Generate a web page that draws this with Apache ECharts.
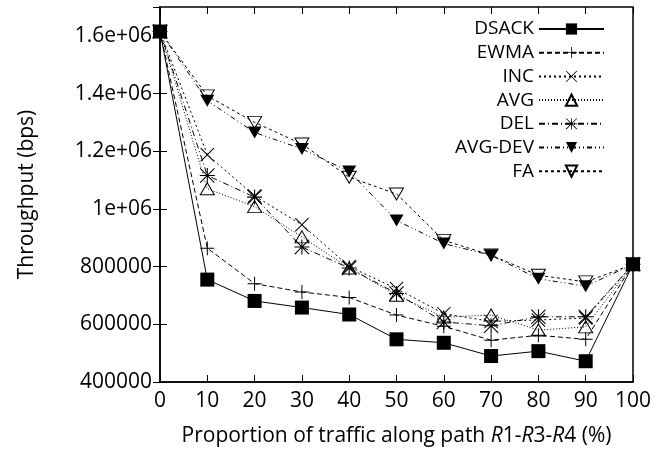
<!DOCTYPE html>
<html>
<head>
<meta charset="utf-8">
<title>Throughput vs traffic proportion</title>
<script src="https://cdn.jsdelivr.net/npm/echarts@6/dist/echarts.min.js"></script>
<style>
  html, body { margin: 0; padding: 0; background: #fff; }
  #chart { width: 670px; height: 452px; }
</style>
</head>
<body>
<div id="chart"></div>
<script>
// Proportion of traffic along path R1-R3-R4 (%)
const proportions = [0, 10, 20, 30, 40, 50, 60, 70, 80, 90, 100];

// Throughput (bps) per scheme
const dsack  = [1615000, 755000, 681000, 658000, 634000, 548000, 536000, 490000, 507000, 472000, 808000];
const ewma   = [1615000, 864000, 741000, 712000, 693000, 632000, 593000, 545000, 562000, 548000, 808000];
const inc    = [1615000, 1188000, 1045000, 945000, 800000, 724000, 637000, 610000, 615000, 622000, 808000];
const avg    = [1615000, 1070000, 1008000, 903000, 795000, 701000, 625000, 632000, 580000, 591000, 808000];
const del    = [1615000, 1116000, 1041000, 868000, 795000, 707000, 608000, 595000, 626000, 626000, 808000];
const avgDev = [1615000, 1375000, 1265000, 1208000, 1130000, 960000, 880000, 839000, 758000, 732000, 808000];
const fa     = [1615000, 1392000, 1300000, 1225000, 1110000, 1052000, 891000, 840000, 770000, 747000, 808000];

const schemeNames = ['DSACK', 'EWMA', 'INC', 'AVG', 'DEL', 'AVG-DEV', 'FA'];

// Axis tick settings
const xTicks = { min: 0, max: 100, step: 10 };
const yTicks = { min: 400000, max: 1700000, step: 200000 };

const FONT = '"Open Sans", "Noto Sans", sans-serif';

// Marker shapes drawn as filled outlines
const PLUS = 'path://M6.5,0H7.5V6.5H14V7.5H7.5V14H6.5V7.5H0V6.5H6.5Z';
const CROSS = 'path://M0,0.7L0.7,0L7,6.3L13.3,0L14,0.7L7.7,7L14,13.3L13.3,14L7,7.7L0.7,14L0,13.3L6.3,7Z';
const STAR = PLUS + CROSS.replace('path://', '');

// Open markers: outline only, no fill
const OPEN = { color: 'rgba(0,0,0,0)', borderColor: '#000', borderWidth: 1 };

function pairs(values) {
  return proportions.map((p, i) => [p, values[i]]);
}

function makeSeries(name, values, opts) {
  return Object.assign({
    name: name,
    type: 'line',
    data: pairs(values),
    symbolKeepAspect: true,
    lineStyle: { color: '#000', width: 1, type: opts.dash || 'solid' },
    itemStyle: { color: '#000', borderWidth: 0 },
    emphasis: { disabled: true }
  }, opts.extra);
}

const series = [
  makeSeries('EWMA', ewma, { dash: [5, 3], extra: { symbol: PLUS, symbolSize: 14, z: 2 } }),
  makeSeries('INC', inc, { dash: [2, 3], extra: { symbol: CROSS, symbolSize: 14, z: 2 } }),
  makeSeries('AVG', avg, { dash: [1, 2], extra: {
    symbol: 'triangle', symbolSize: [14, 12], z: 2, itemStyle: OPEN } }),
  makeSeries('DEL', del, { dash: [6, 3, 1, 3], extra: { symbol: STAR, symbolSize: 15, z: 2 } }),
  makeSeries('AVG-DEV', avgDev, { dash: [5, 3, 1, 3, 1, 3], extra: {
    symbol: 'triangle', symbolRotate: 180, symbolSize: [14, 12], z: 2 } }),
  makeSeries('FA', fa, { dash: [3, 3], extra: {
    symbol: 'triangle', symbolRotate: 180, symbolSize: [14, 12], z: 2, itemStyle: OPEN } }),
  makeSeries('DSACK', dsack, { dash: 'solid', extra: { symbol: 'rect', symbolSize: 14, z: 3 } })
];

function yLabel(v) {
  if (v % yTicks.step !== 0) return '';
  if (v < 1000000) return String(v);
  return (v / 1000000) + 'e+06';
}

const tickStyle = { show: true, inside: true, length: 7, lineStyle: { color: '#000', width: 1 } };

const chart = echarts.init(document.getElementById('chart'), null, { renderer: 'canvas' });
chart.setOption({
  animation: false,
  backgroundColor: '#fff',
  grid: {
    left: 160, right: 37, top: 7, bottom: 70,
    show: true, borderColor: '#000', borderWidth: 1.5, backgroundColor: 'transparent'
  },
  legend: {
    data: schemeNames,
    orient: 'vertical',
    align: 'right',
    right: 65,
    top: 19,
    padding: 0,
    itemWidth: 65,
    itemHeight: 14,
    itemGap: 3.7,
    selectedMode: false,
    textStyle: { fontFamily: FONT, fontSize: 19, lineHeight: 20, color: '#000' }
  },
  xAxis: [{
    type: 'value',
    min: xTicks.min, max: xTicks.max, interval: xTicks.step,
    position: 'bottom',
    splitLine: { show: false },
    axisLine: { show: true, lineStyle: { color: '#000', width: 1.5 } },
    axisTick: tickStyle,
    axisLabel: { color: '#000', fontFamily: FONT, fontSize: 21, margin: 9 },
    name: 'Proportion of traffic along path {i|R}1-{i|R}3-{i|R}4 (%)',
    nameLocation: 'middle',
    nameGap: 44,
    nameTextStyle: {
      color: '#000', fontFamily: FONT, fontSize: 21,
      rich: { i: { fontStyle: 'italic', fontFamily: FONT, fontSize: 21, color: '#000' } }
    }
  }, {
    type: 'value',
    min: xTicks.min, max: xTicks.max, interval: xTicks.step,
    position: 'top',
    splitLine: { show: false },
    axisLine: { show: false },
    axisTick: tickStyle,
    axisLabel: { show: false }
  }],
  yAxis: [{
    type: 'value',
    min: yTicks.min, max: yTicks.max, interval: yTicks.step,
    position: 'left',
    splitLine: { show: false },
    axisLine: { show: true, lineStyle: { color: '#000', width: 1.5 } },
    axisTick: tickStyle,
    axisLabel: { color: '#000', fontFamily: FONT, fontSize: 21, margin: 8,
                 formatter: yLabel, showMaxLabel: false },
    name: 'Throughput (bps)',
    nameLocation: 'middle',
    nameGap: 122,
    nameTextStyle: { color: '#000', fontFamily: FONT, fontSize: 21 }
  }, {
    type: 'value',
    min: yTicks.min, max: yTicks.max, interval: yTicks.step,
    position: 'right',
    splitLine: { show: false },
    axisLine: { show: false },
    axisTick: tickStyle,
    axisLabel: { show: false }
  }],
  series: series
});
</script>
</body>
</html>
